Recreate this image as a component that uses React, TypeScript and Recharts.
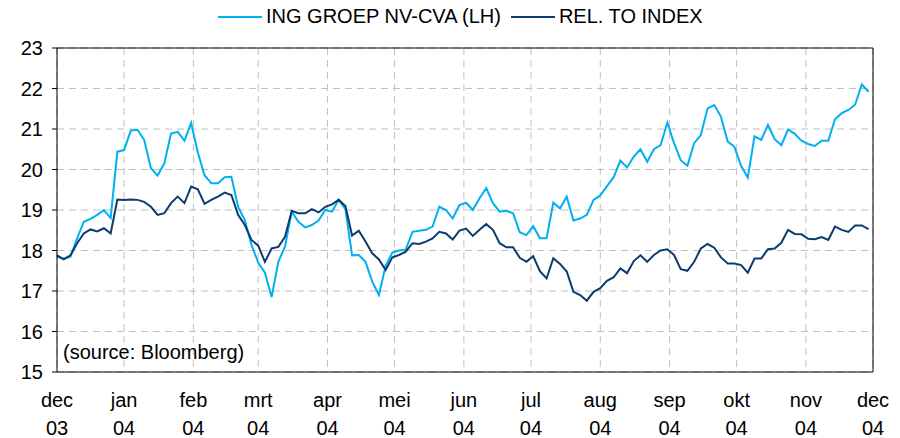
import React from "react";
import { CartesianGrid, Line, LineChart, ReferenceLine, XAxis, YAxis } from "recharts";

// sampled every 3 calendar days from early Dec 2003
const DAY_STEP = 3;

const ingGroep = [
  17.85, 17.8, 17.85, 18.3, 18.71, 18.78, 18.88, 19.0, 18.8, 20.44,
  20.48, 20.96, 20.98, 20.73, 20.03, 19.85, 20.15, 20.89, 20.93, 20.71,
  21.15, 20.42, 19.86, 19.66, 19.66, 19.81, 19.82, 19.08, 18.75, 18.14,
  17.7, 17.45, 16.85, 17.72, 18.1, 18.96, 18.71, 18.57, 18.63, 18.74,
  19.0, 18.96, 19.25, 19.02, 17.88, 17.89, 17.72, 17.23, 16.9, 17.62,
  17.95, 18.0, 18.02, 18.46, 18.49, 18.51, 18.59, 19.08, 19.0, 18.79,
  19.12, 19.18, 19.0, 19.29, 19.54, 19.17, 18.96, 18.98, 18.92, 18.45,
  18.38, 18.6, 18.3, 18.3, 19.18, 19.04, 19.33, 18.74, 18.79, 18.88,
  19.25, 19.36, 19.59, 19.81, 20.22, 20.05, 20.32, 20.5, 20.19, 20.5,
  20.6, 21.16, 20.65, 20.23, 20.09, 20.65, 20.85, 21.51, 21.59, 21.3,
  20.69, 20.56, 20.09, 19.8, 20.82, 20.73, 21.1, 20.75, 20.6, 20.99,
  20.88, 20.71, 20.63, 20.58, 20.71, 20.71, 21.24, 21.39, 21.47, 21.6,
  22.1, 21.92,
];

const relToIndex = [
  17.88, 17.78, 17.88, 18.18, 18.42, 18.52, 18.47, 18.55, 18.42, 19.26,
  19.25, 19.26, 19.25, 19.2, 19.08, 18.88, 18.92, 19.17, 19.33, 19.17,
  19.58, 19.51, 19.15, 19.25, 19.33, 19.43, 19.37, 18.88, 18.63, 18.26,
  18.12, 17.72, 18.05, 18.09, 18.34, 18.98, 18.92, 18.92, 19.02, 18.94,
  19.08, 19.14, 19.25, 19.1, 18.37, 18.49, 18.22, 17.93, 17.78, 17.52,
  17.83, 17.89, 17.97, 18.18, 18.16, 18.22, 18.3, 18.46, 18.42, 18.27,
  18.49, 18.54, 18.36, 18.51, 18.65, 18.51, 18.18, 18.08, 18.08, 17.82,
  17.72, 17.86, 17.49, 17.31, 17.81, 17.67, 17.48, 16.98, 16.9, 16.76,
  16.98, 17.07, 17.25, 17.34, 17.56, 17.44, 17.74, 17.88, 17.72, 17.89,
  18.0, 18.03, 17.89, 17.54, 17.5, 17.72, 18.05, 18.16, 18.07, 17.83,
  17.68, 17.68, 17.64, 17.45, 17.8, 17.8, 18.03, 18.05, 18.19, 18.51,
  18.41, 18.4, 18.29, 18.28, 18.33, 18.26, 18.59, 18.51, 18.46, 18.62,
  18.62, 18.53,
];

const tickDays = [0, 30, 61, 90, 121, 151, 182, 212, 243, 274, 304, 335, 365];
const monthLabels = ["dec", "jan", "feb", "mrt", "apr", "mei", "jun", "jul", "aug", "sep", "okt", "nov", "dec"];
const yearLabels = ["03", "04", "04", "04", "04", "04", "04", "04", "04", "04", "04", "04", "04"];
const yTicks = [15, 16, 17, 18, 19, 20, 21, 22, 23];

const ING_COLOR = "#00b0f0";
const REL_COLOR = "#0b3c6e";
const FONT = "'Liberation Sans', Arial, sans-serif";

const data = ingGroep.map((v, i) => ({ day: i * DAY_STEP, ing: v, rel: relToIndex[i] }));

function MonthTick(props: any) {
  const { x, y, payload } = props;
  const i = tickDays.indexOf(payload.value);
  return (
    <text x={x} y={y} textAnchor="middle" fill="#000" fontSize={20} fontFamily={FONT}>
      <tspan x={x} dy={35}>{monthLabels[i]}</tspan>
      <tspan x={x} dy={28}>{yearLabels[i]}</tspan>
    </text>
  );
}

function LegendItem({ color, label }: { color: string; label: string }) {
  return (
    <div style={{ display: "flex", alignItems: "center", marginRight: 10 }}>
      <div style={{ width: 44, height: 2, background: color, marginRight: 4 }} />
      <span>{label}</span>
    </div>
  );
}

export default function App() {
  return (
    <div style={{ position: "absolute", left: 0, top: 0, width: 900, height: 438, background: "#fff", fontFamily: FONT }}>
      <div style={{ position: "absolute", left: 218, top: 5, display: "flex", fontSize: 20, color: "#000", whiteSpace: "nowrap" }}>
        <LegendItem color={ING_COLOR} label="ING GROEP NV-CVA (LH)" />
        <LegendItem color={REL_COLOR} label="REL. TO INDEX" />
      </div>
      <LineChart width={900} height={438} data={data} margin={{ top: 48, right: 27, bottom: 0, left: 0 }}>
        <CartesianGrid stroke="#c0c0c0" strokeDasharray="7 5" />
        <XAxis
          type="number"
          dataKey="day"
          domain={[0, 365]}
          ticks={tickDays}
          interval={0}
          tick={<MonthTick />}
          tickLine={false}
          tickSize={0}
          tickMargin={0}
          axisLine={{ stroke: "#000" }}
          height={66}
        />
        <YAxis
          domain={[15, 23]}
          ticks={yTicks}
          interval={0}
          width={57}
          tickSize={5}
          tickMargin={9}
          tickLine={{ stroke: "#000" }}
          axisLine={{ stroke: "#000" }}
          tick={{ fill: "#000", fontSize: 20, fontFamily: FONT }}
        />
        <ReferenceLine y={23} stroke="#000" />
        <ReferenceLine x={365} stroke="#000" />
        <Line type="linear" dataKey="ing" stroke={ING_COLOR} strokeWidth={2} dot={false} isAnimationActive={false} />
        <Line type="linear" dataKey="rel" stroke={REL_COLOR} strokeWidth={2} dot={false} isAnimationActive={false} />
      </LineChart>
      <div style={{ position: "absolute", left: 63, top: 341, fontSize: 20, color: "#000" }}>(source: Bloomberg)</div>
    </div>
  );
}
